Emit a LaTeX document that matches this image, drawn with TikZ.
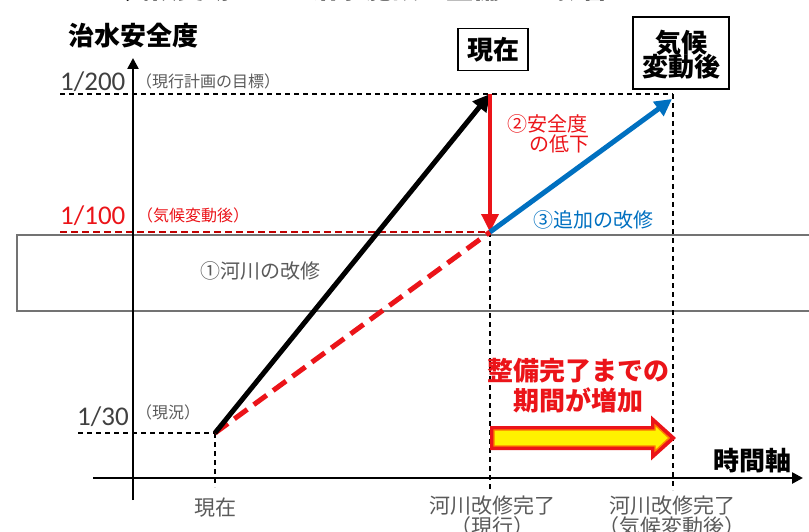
\documentclass[tikz,border=0pt]{standalone}
\usepackage{fontspec}
\usetikzlibrary{arrows.meta}
\newfontfamily\jp{Noto Sans CJK JP}
\newfontfamily\numf{Carlito}
\newcommand{\fsz}[1]{\fontsize{#1}{#1}\selectfont}
\definecolor{myred}{RGB}{235,20,25}
\definecolor{darkred}{RGB}{192,0,0}
\definecolor{myblue}{RGB}{0,112,192}
\definecolor{txtgray}{RGB}{90,90,90}
\tikzset{
  lbl/.style={inner sep=0pt, font=\jp\fsz{20}, text=txtgray},
  small/.style={inner sep=0pt, font=\jp\fsz{16}, text=txtgray},
  num/.style={inner sep=0pt, font=\numf\fsz{27}, text=black!75},
  boxlbl/.style={draw=black, line width=1.5pt, fill=white, inner sep=0pt, font=\jp\bfseries\fsz{26}, align=center},
  guide/.style={black, line width=1.2pt, dash pattern=on 5pt off 4pt},
  axis/.style={black, line width=2.5pt, -{Triangle[length=11pt,width=11pt]}},
}
\begin{document}
\begin{tikzpicture}[x=1pt,y=-1pt]
\useasboundingbox (0,0) rectangle (809,532);
\clip (0,0) rectangle (809,532);
% cut-off title
\begin{scope}
\clip (0,0) rectangle (809,6);
\node[inner sep=0pt, font=\jp\bfseries\fsz{27}] (title) at (420,-12) {気候変動による治水施設の整備への影響イメージ};
\end{scope}
% band rectangle
\draw[gray!90!black, line width=1.6pt, fill=white] (17,235) rectangle (830,311);
% coordinates
\coordinate (p0) at (215,433);
\coordinate (p1) at (490,94);
\coordinate (p2) at (490,232);
\coordinate (p3) at (672,99);
\coordinate (y200l) at (60,94);
\coordinate (y200r) at (673,94);
\coordinate (y100l) at (60,232);
\coordinate (y30l) at (78,433);
\coordinate (b0) at (215,487);
\coordinate (b1) at (490,490);
\coordinate (b2) at (673,490);
\coordinate (ya0) at (133,500);
\coordinate (ya1) at (133,58);
\coordinate (xa0) at (93,478);
\coordinate (xa1) at (803,478);
% guides
\draw[guide] (y200l) -- (y200r);
\draw[guide] (y200r) -- (b2);
\draw[guide] (p2) -- (b1);
\draw[guide] (y30l) -- (p0);
\draw[guide] (p0) -- (b0);
\draw[darkred, line width=2.2pt, dash pattern=on 7pt off 4pt] (y100l) -- (p2);
% axes
\draw[axis] (ya0) -- (ya1);
\draw[axis] (xa0) -- (xa1);
% arrows
\draw[myred, line width=5pt, dash pattern=on 16pt off 8pt] (p0) -- (p2);
\draw[black, line width=5pt, -{Triangle[length=17pt,width=17pt]}] (p0) -- (p1);
\draw[myred, line width=3.5pt, -{Triangle[length=18pt,width=17pt]}] (p1) -- (p2);
\draw[myblue, line width=5pt, -{Triangle[length=17pt,width=17pt]}] (p2) -- (p3);
% yellow arrow
\draw[myred, line width=4pt, fill=yellow, line join=miter] (492,428) -- (653,428) -- (653,420) -- (673,438) -- (653,456) -- (653,448) -- (492,448) -- cycle;
\draw[orange, line width=1.3pt, line join=miter] (494,430) -- (655,430) -- (655,425) -- (669,438) -- (655,451) -- (655,446) -- (494,446) -- cycle;
\node[inner sep=0pt] (yarrow) at (582,438) {};
% axis titles
\node[inner sep=0pt, font=\jp\bfseries\fsz{26}] (ytitle) at (133,36) {治水安全度};
\node[inner sep=0pt, font=\jp\bfseries\fsz{26}] (xtitle) at (752,461) {時間軸};
% boxes
\node[boxlbl, minimum width=70pt, minimum height=42pt] (now) at (493,49.5) {現在};
\node[boxlbl, minimum width=96pt, minimum height=72pt, text depth=0pt] (after) at (681,53) {気候\\[-2pt]変動後};
% y labels
\node[num, anchor=west] (l200) at (60,82) {1/200};
\node[small, anchor=west] (l200t) at (136,81) {（現行計画の目標）};
\node[num, anchor=west, text=myred] (l100) at (60,216) {1/100};
\node[small, anchor=west, text=myred] (l100t) at (137,215) {（気候変動後）};
\node[num, anchor=west] (l30) at (77,417) {1/30};
\node[small, anchor=west] (l30t) at (136,412) {（現況）};
% annotations
\node[lbl, font=\jp\fsz{20}, text=myred, align=left, anchor=west] (drop) at (507,134) {②安全度\\\hspace*{1.1em}の低下};
\node[lbl, text=myblue, anchor=west] (add) at (533,220) {③追加の改修};
\node[lbl, anchor=west] (river) at (200,271) {①河川の改修};
\node[inner sep=0pt, font=\jp\bfseries\fsz{26}, text=myred, align=center] (period) at (578,386) {整備完了までの\\[4pt]期間が増加};
% x labels
\node[lbl, font=\jp\fsz{21}] (x0) at (215,508) {現在};
\node[lbl, font=\jp\fsz{21}, align=center] (x1) at (492,516) {河川改修完了\\（現行）};
\node[lbl, font=\jp\fsz{21}, align=center] (x2) at (672,516) {河川改修完了\\（気候変動後）};
\end{tikzpicture}
\end{document}
